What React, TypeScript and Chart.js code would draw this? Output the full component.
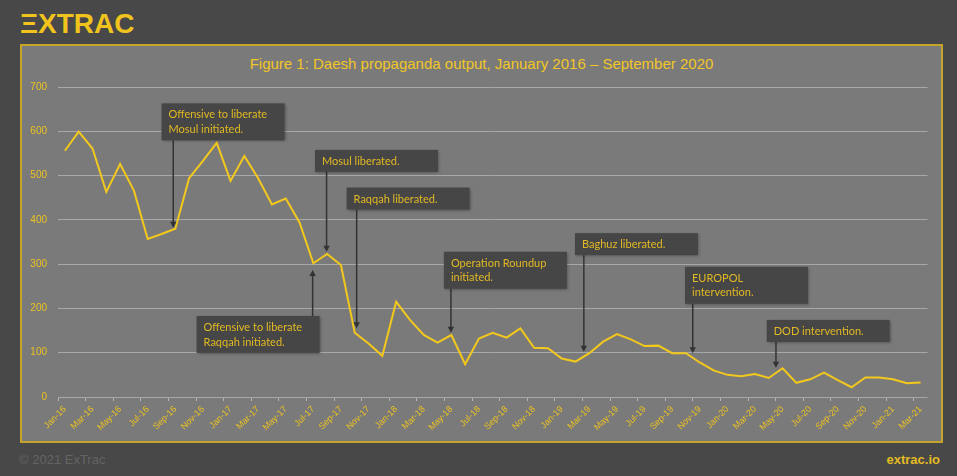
import React, { useEffect, useRef } from 'react';
import { Chart, registerables } from 'chart.js';

Chart.register(...registerables);

const months: string[] = [
  'Jan-16', 'Feb-16', 'Mar-16', 'Apr-16', 'May-16', 'Jun-16', 'Jul-16', 'Aug-16', 'Sep-16', 'Oct-16', 'Nov-16', 'Dec-16',
  'Jan-17', 'Feb-17', 'Mar-17', 'Apr-17', 'May-17', 'Jun-17', 'Jul-17', 'Aug-17', 'Sep-17', 'Oct-17', 'Nov-17', 'Dec-17',
  'Jan-18', 'Feb-18', 'Mar-18', 'Apr-18', 'May-18', 'Jun-18', 'Jul-18', 'Aug-18', 'Sep-18', 'Oct-18', 'Nov-18', 'Dec-18',
  'Jan-19', 'Feb-19', 'Mar-19', 'Apr-19', 'May-19', 'Jun-19', 'Jul-19', 'Aug-19', 'Sep-19', 'Oct-19', 'Nov-19', 'Dec-19',
  'Jan-20', 'Feb-20', 'Mar-20', 'Apr-20', 'May-20', 'Jun-20', 'Jul-20', 'Aug-20', 'Sep-20', 'Oct-20', 'Nov-20', 'Dec-20',
  'Jan-21', 'Feb-21', 'Mar-21',
];

const output: number[] = [
  556, 599, 561, 463, 526, 466, 357, 368, 380, 494, 533, 574,
  488, 544, 494, 435, 448, 394, 302, 323, 298, 145, 121, 93,
  215, 174, 140, 123, 140, 74, 132, 145, 134, 155, 111, 110,
  87, 80, 99, 125, 142, 130, 115, 116, 99, 99, 78, 60,
  50, 47, 52, 43, 65, 32, 40, 55, 38, 22, 44, 44,
  40, 31, 33,
];

const yTickValues: number[] = [0, 100, 200, 300, 400, 500, 600, 700];

const titleText = 'Figure 1: Daesh propaganda output, January 2016 \u2013 September 2020';

type Note = { lines: string[]; boxX: number; boxY: number; arrowX: number; tipY: number; up?: boolean };

const notes: Note[] = [
  { lines: ['Offensive to liberate', 'Mosul initiated.'], boxX: 7.0, boxY: 663, arrowX: 7.85, tipY: 382 },
  { lines: ['Offensive to liberate', 'Raqqah initiated.'], boxX: 9.54, boxY: 183, arrowX: 17.95, tipY: 287, up: true },
  { lines: ['Mosul liberated.'], boxX: 18.12, boxY: 558, arrowX: 18.96, tipY: 328 },
  { lines: ['Raqqah liberated.'], boxX: 20.41, boxY: 473, arrowX: 21.14, tipY: 155 },
  { lines: ['Operation Roundup', 'initiated.'], boxX: 27.46, boxY: 328, arrowX: 27.97, tipY: 145 },
  { lines: ['Baghuz liberated.'], boxX: 36.96, boxY: 370, arrowX: 37.6, tipY: 102 },
  { lines: ['EUROPOL', 'intervention.'], boxX: 44.93, boxY: 294, arrowX: 45.49, tipY: 99 },
  { lines: ['DOD intervention.'], boxX: 50.85, boxY: 174, arrowX: 51.52, tipY: 66 },
];

const GOLD = '#ecc221';
const LINE_GOLD = '#f3c81c';

const notesPlugin = {
  id: 'notesPlugin',
  afterDatasetsDraw(chart: any) {
    const { ctx, scales } = chart;
    const x = scales.x;
    const y = scales.y;
    ctx.save();
    for (const n of notes) {
      const bx = x.getPixelForValue(n.boxX);
      const by = y.getPixelForValue(n.boxY);
      const w = 123;
      const h = n.lines.length === 2 ? 37 : 22;
      const ax = x.getPixelForValue(n.arrowX);
      const tip = y.getPixelForValue(n.tipY);
      const start = n.up ? by : by + h;
      const dir = n.up ? -1 : 1;
      // arrow shaft
      ctx.strokeStyle = '#333333';
      ctx.lineWidth = 1.5;
      ctx.beginPath();
      ctx.moveTo(ax, start);
      ctx.lineTo(ax, tip - dir * 5);
      ctx.stroke();
      // arrow head
      ctx.fillStyle = '#333333';
      ctx.beginPath();
      ctx.moveTo(ax, tip);
      ctx.lineTo(ax - 3.2, tip - dir * 6);
      ctx.lineTo(ax + 3.2, tip - dir * 6);
      ctx.closePath();
      ctx.fill();
      // box
      ctx.save();
      ctx.shadowColor = 'rgba(0,0,0,0.35)';
      ctx.shadowBlur = 3;
      ctx.shadowOffsetX = 1;
      ctx.shadowOffsetY = 1;
      ctx.fillStyle = '#464646';
      ctx.fillRect(bx, by, w, h);
      ctx.restore();
      // text
      ctx.fillStyle = '#e2b924';
      ctx.font = '11px Lato, "Open Sans", sans-serif';
      ctx.textAlign = 'left';
      ctx.textBaseline = 'middle';
      n.lines.forEach((line, i) => {
        ctx.fillText(line, bx + 7, by + 11.5 + i * 14.5);
      });
    }
    ctx.restore();
  },
};

export default function App() {
  const canvasRef = useRef<HTMLCanvasElement | null>(null);

  useEffect(() => {
    if (!canvasRef.current) return;
    const chart = new Chart(canvasRef.current, {
      type: 'line',
      data: {
        labels: months,
        datasets: [
          {
            label: 'Propaganda output',
            data: output,
            borderColor: LINE_GOLD,
            borderWidth: 2,
            pointRadius: 0,
            tension: 0,
            fill: false,
          },
        ],
      },
      options: {
        animation: false,
        responsive: false,
        devicePixelRatio: 1,
        layout: { padding: { left: 0, right: 13.5, top: 41, bottom: 0 } },
        plugins: {
          legend: { display: false },
          tooltip: { enabled: false },
          title: { display: false },
        },
        scales: {
          x: {
            type: 'category',
            offset: true,
            border: { display: false },
            grid: {
              offset: true,
              drawOnChartArea: false,
              drawTicks: true,
              tickLength: 4,
              lineWidth: 1,
              color: (c: any) => (typeof c.index === 'number' && c.index % 2 === 0 ? '#b4b4b4' : 'rgba(0,0,0,0)'),
            },
            ticks: {
              autoSkip: false,
              maxRotation: 45,
              minRotation: 45,
              padding: 3,
              color: GOLD,
              font: { family: '"Liberation Sans", Arial, sans-serif', size: 9 },
              callback: (_v: any, i: number) => (i % 2 === 0 ? months[i] : ''),
            },
            afterFit: (s: any) => {
              s.height = 44;
            },
          },
          y: {
            min: 0,
            max: 700,
            border: { display: false },
            grid: { color: '#a8a8a8', lineWidth: 1, drawTicks: false },
            afterBuildTicks: (s: any) => {
              s.ticks = yTickValues.map((v) => ({ value: v }));
            },
            ticks: {
              padding: 11,
              color: GOLD,
              font: { family: '"Liberation Sans", Arial, sans-serif', size: 10 },
            },
            afterFit: (s: any) => {
              s.width = 36;
            },
          },
        },
      },
      plugins: [notesPlugin],
    });
    return () => chart.destroy();
  }, []);

  return (
    <div
      style={{
        position: 'fixed',
        left: 0,
        top: 0,
        width: 957,
        height: 476,
        background: '#484848',
        overflow: 'hidden',
        fontFamily: '"Liberation Sans", Arial, sans-serif',
      }}
    >
      <div
        style={{
          position: 'absolute',
          left: 20,
          top: 10,
          fontSize: 28,
          lineHeight: '28px',
          fontWeight: 700,
          color: '#f0c41d',
          letterSpacing: 0,
        }}
      >
        ΞXTRAC
      </div>
      <div
        style={{
          position: 'absolute',
          left: 20,
          top: 44,
          width: 919,
          height: 395,
          border: '2px solid #c6a42a',
          background: '#7a7a7a',
        }}
      >
        <div
          style={{
            position: 'absolute',
            left: 0,
            top: 9,
            width: '100%',
            textAlign: 'center',
            fontSize: 15,
            lineHeight: '18px',
            color: '#f2c626',
          }}
        >
          {titleText}
        </div>
        <canvas
          ref={canvasRef}
          width={919}
          height={395}
          style={{ position: 'absolute', left: 0, top: 0, width: 919, height: 395 }}
        />
      </div>
      <div
        style={{
          position: 'absolute',
          left: 19,
          top: 452,
          fontSize: 13,
          lineHeight: '16px',
          color: '#646464',
        }}
      >
        © 2021 ExTrac
      </div>
      <div
        style={{
          position: 'absolute',
          right: 17,
          top: 452,
          fontSize: 13,
          lineHeight: '16px',
          fontWeight: 700,
          color: '#e4bc22',
        }}
      >
        extrac.io
      </div>
    </div>
  );
}
